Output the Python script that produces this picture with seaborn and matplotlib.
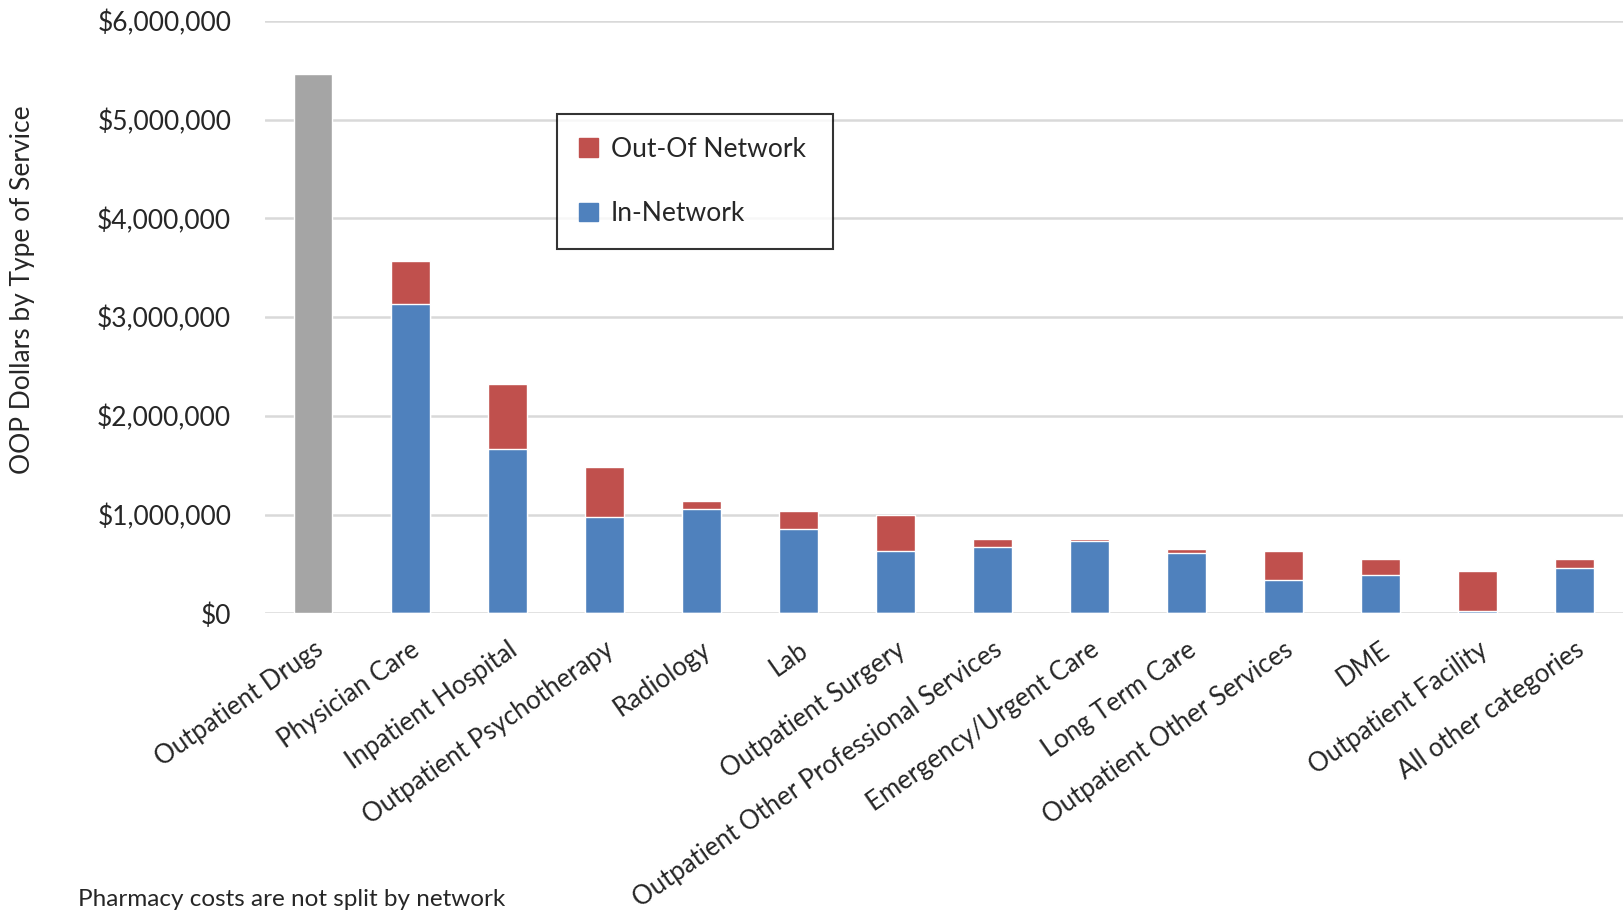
import numpy as np
import pandas as pd
import matplotlib
matplotlib.use("Agg")
import matplotlib.pyplot as plt
from matplotlib.patches import Patch
from matplotlib.ticker import FuncFormatter
import seaborn as sns

# ---- data ----
categories = ["Outpatient Drugs", "Physician Care", "Inpatient Hospital",
              "Outpatient Psychotherapy", "Radiology", "Lab", "Outpatient Surgery",
              "Outpatient Other Professional Services", "Emergency/Urgent Care",
              "Long Term Care", "Outpatient Other Services", "DME",
              "Outpatient Facility", "All other categories"]
pharmacy = [5460000, 0, 0, 0, 0, 0, 0, 0, 0, 0, 0, 0, 0, 0]
in_network = [0, 3135000, 1665000, 971000, 1061000, 858000, 629000,
              670000, 728000, 612000, 337000, 388000, 27000, 459000]
out_network = [0, 436000, 657000, 507000, 76000, 177000, 371000,
               85000, 22000, 38000, 296000, 163000, 405000, 95000]

df = pd.DataFrame({"cat": categories, "pharm": pharmacy,
                   "inn": in_network, "out": out_network})
df["total"] = df["inn"] + df["out"]

sns.set_style("white")
plt.rcParams['font.family'] = ['Lato', 'DejaVu Sans']

fig = plt.figure(figsize=(16.23, 9.14), dpi=100)
ax = fig.add_axes([0.163, 0.329, 0.837, 0.648])

red, blue, gray = "#C0504D", "#4F81BD", "#A5A5A5"
sns.barplot(data=df, x="cat", y="total", color=red, width=0.4, saturation=1, ax=ax, zorder=3)
sns.barplot(data=df, x="cat", y="inn", color=blue, width=0.4, saturation=1, ax=ax, zorder=3)
sns.barplot(data=df, x="cat", y="pharm", color=gray, width=0.4, saturation=1, ax=ax, zorder=3)

ax.set_xlim(-0.5, len(categories) - 0.5)
ax.set_ylim(0, 6000000)
ax.set_yticks(np.arange(0, 6000001, 1000000))
ax.yaxis.set_major_formatter(FuncFormatter(lambda v, p: f"${v:,.0f}"))
ax.grid(axis="y", color="#D9D9D9", lw=1.8, zorder=0)
ax.set_axisbelow(True)
for s in ax.spines.values():
    s.set_visible(False)

ax.set_xlabel("")
ax.set_ylabel("")
ax.tick_params(axis="y", length=0, pad=24, labelsize=19)
ax.tick_params(axis="x", length=0, pad=17, labelsize=18.5)
plt.setp(ax.get_xticklabels(), rotation=35, ha="right", rotation_mode="anchor")

fig.text(0.014, 0.683, "OOP Dollars by Type of Service", rotation=90,
         ha="center", va="center", fontsize=19)
fig.text(0.048, 0.004, "Pharmacy costs are not split by network",
         ha="left", va="bottom", fontsize=17.5)

handles = [Patch(color=red, label="Out-Of Network"), Patch(color=blue, label="In-Network")]
leg = ax.legend(handles=handles, loc="upper left", bbox_to_anchor=(0.343, 0.735, 0.17, 0.14),
                bbox_transform=fig.transFigure, mode="expand", frameon=True, fancybox=False,
                fontsize=19, handlelength=0.7, handleheight=0.7, handletextpad=0.5,
                labelspacing=1.5, borderpad=0.85, borderaxespad=0)
leg.get_frame().set_edgecolor("black")
leg.get_frame().set_linewidth(1.5)

plt.savefig("out.png", dpi=100)
